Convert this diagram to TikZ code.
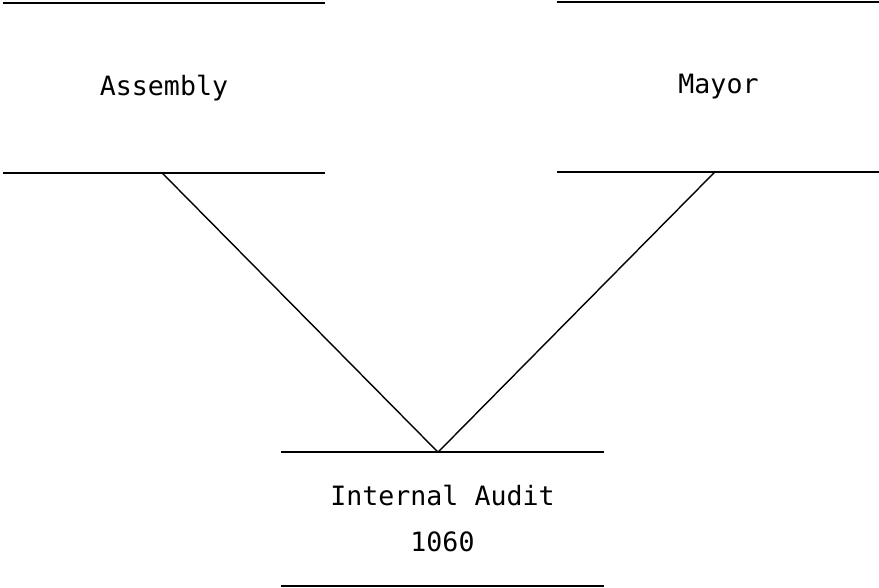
\documentclass[tikz,border=0pt]{standalone}
\usepackage{fontspec}
\setmonofont{DejaVu Sans Mono}
\tikzset{
  unit/.style={minimum width=160.5pt, inner sep=0pt, align=center,
    font=\ttfamily\fontsize{13.3}{23}\selectfont,
    append after command={(\tikzlastnode.north west) edge (\tikzlastnode.north east)
      (\tikzlastnode.south west) edge (\tikzlastnode.south east)}},
  link/.style={line width=0.7pt}
}
\begin{document}
\begin{tikzpicture}[x=0.5pt, y=-0.5pt, line width=0.8pt]
    \useasboundingbox (0,0) rectangle (879,588);
    \node [unit, minimum height=84pt] (asm) at (164,88) {Assembly};
    \node [unit, minimum height=84pt] (mayor) at (718.5,87) {Mayor};
    \node [unit, minimum height=66pt] (audit) at (442.5,519) {Internal Audit\\1060};
    \draw [link] ([xshift=-1pt]asm.south) -- ([xshift=-2.25pt]audit.north);
    \draw [link] ([xshift=-1.75pt]mayor.south) -- ([xshift=-2.25pt]audit.north);
  \end{tikzpicture}
\end{document}
